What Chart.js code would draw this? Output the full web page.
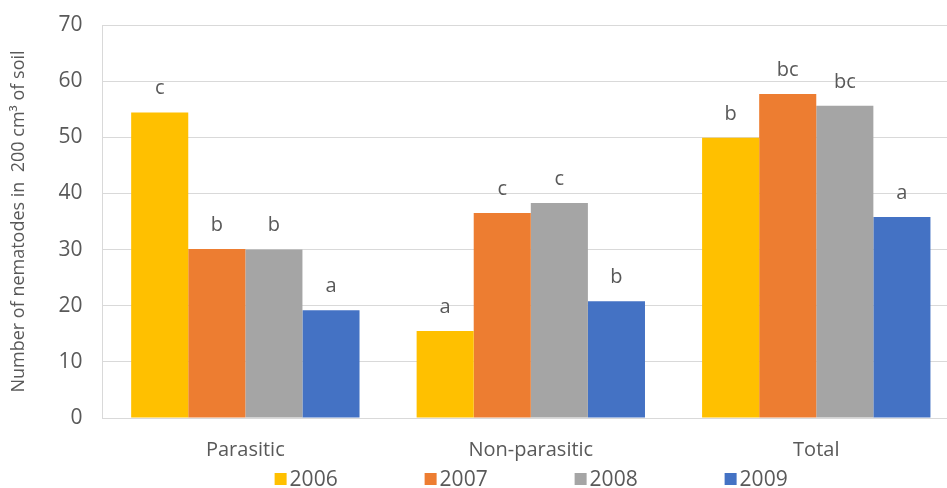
<!DOCTYPE html>
<html>
<head>
<meta charset="utf-8">
<script src="https://cdn.jsdelivr.net/npm/chart.js@4.4.1/dist/chart.umd.min.js"></script>
<style>
  html, body { margin: 0; padding: 0; background: #fff; overflow: hidden; }
  #wrap { width: 960px; height: 488px; }
</style>
</head>
<body>
<div id="wrap"><canvas id="c" width="960" height="488"></canvas></div>
<script>
// Nematode counts per 200 cm3 of soil, by group and year
const categories = ['Parasitic', 'Non-parasitic', 'Total'];
const years = ['2006', '2007', '2008', '2009'];
const values2006 = [54.4, 15.5, 49.9];
const values2007 = [30.1, 36.5, 57.7];
const values2008 = [30.0, 38.3, 55.6];
const values2009 = [19.2, 20.8, 35.8];
// Significance letters shown above each bar
const letters2006 = ['c', 'a', 'b'];
const letters2007 = ['b', 'c', 'bc'];
const letters2008 = ['b', 'c', 'bc'];
const letters2009 = ['a', 'b', 'a'];
const yTicks = [0, 10, 20, 30, 40, 50, 60, 70];

const colors = ['#FFC000', '#ED7D31', '#A5A5A5', '#4472C4'];
const seriesValues = [values2006, values2007, values2008, values2009];
const seriesLetters = [letters2006, letters2007, letters2008, letters2009];

const FONT = '"Open Sans", sans-serif';
const TEXT = '#595959';

// Letters above the bars
const letterPlugin = {
  id: 'letters',
  afterDatasetsDraw(chart) {
    const ctx = chart.ctx;
    ctx.save();
    ctx.font = '20px ' + FONT;
    ctx.fillStyle = TEXT;
    ctx.textAlign = 'center';
    ctx.textBaseline = 'middle';
    chart.data.datasets.forEach((ds, i) => {
      const meta = chart.getDatasetMeta(i);
      meta.data.forEach((bar, j) => {
        ctx.fillText(seriesLetters[i][j], bar.x, bar.y - 24);
      });
    });
    ctx.restore();
  }
};

// Legend row under the category labels
const legendPlugin = {
  id: 'yearLegend',
  afterDraw(chart) {
    const ctx = chart.ctx;
    const area = chart.chartArea;
    const y = 479;
    ctx.save();
    ctx.font = '21px ' + FONT;
    ctx.textBaseline = 'middle';
    ctx.textAlign = 'left';
    chart.data.datasets.forEach((ds, i) => {
      const x = area.left + 172 + i * 150;
      ctx.fillStyle = ds.backgroundColor;
      ctx.fillRect(x, y - 6, 12, 12);
      ctx.fillStyle = TEXT;
      ctx.fillText(ds.label, x + 15, y + 1);
    });
    ctx.restore();
  }
};

new Chart(document.getElementById('c'), {
  type: 'bar',
  data: {
    labels: categories,
    datasets: years.map((y, i) => ({
      label: y,
      data: seriesValues[i],
      backgroundColor: colors[i],
      borderWidth: 0,
      categoryPercentage: 0.8,
      barPercentage: 1.0
    }))
  },
  options: {
    responsive: false,
    animation: false,
    devicePixelRatio: 1,
    layout: { padding: { left: 8, right: 1, top: 25, bottom: 14 } },
    plugins: {
      tooltip: { enabled: false },
      legend: { display: false }
    },
    scales: {
      x: {
        grid: { display: false },
        border: { display: true, color: '#D9D9D9', width: 1 },
        ticks: { font: { family: FONT, size: 20 }, color: TEXT, padding: 12 }
      },
      y: {
        min: 0,
        max: 70,
        afterBuildTicks(axis) { axis.ticks = yTicks.map(v => ({ value: v })); },
        afterFit(axis) { axis.paddingTop = 0; axis.paddingBottom = 0; },
        grid: { color: '#D9D9D9', drawTicks: false, lineWidth: 1 },
        border: { display: true, color: '#D9D9D9', width: 1 },
        ticks: { font: { family: FONT, size: 21 }, color: TEXT, padding: 20 },
        title: {
          display: true,
          text: 'Number of nematodes in  200 cm³ of soil',
          font: { family: FONT, size: 18 },
          color: TEXT,
          padding: { top: 0, bottom: 9 }
        }
      }
    }
  },
  plugins: [letterPlugin, legendPlugin]
});
</script>
</body>
</html>
